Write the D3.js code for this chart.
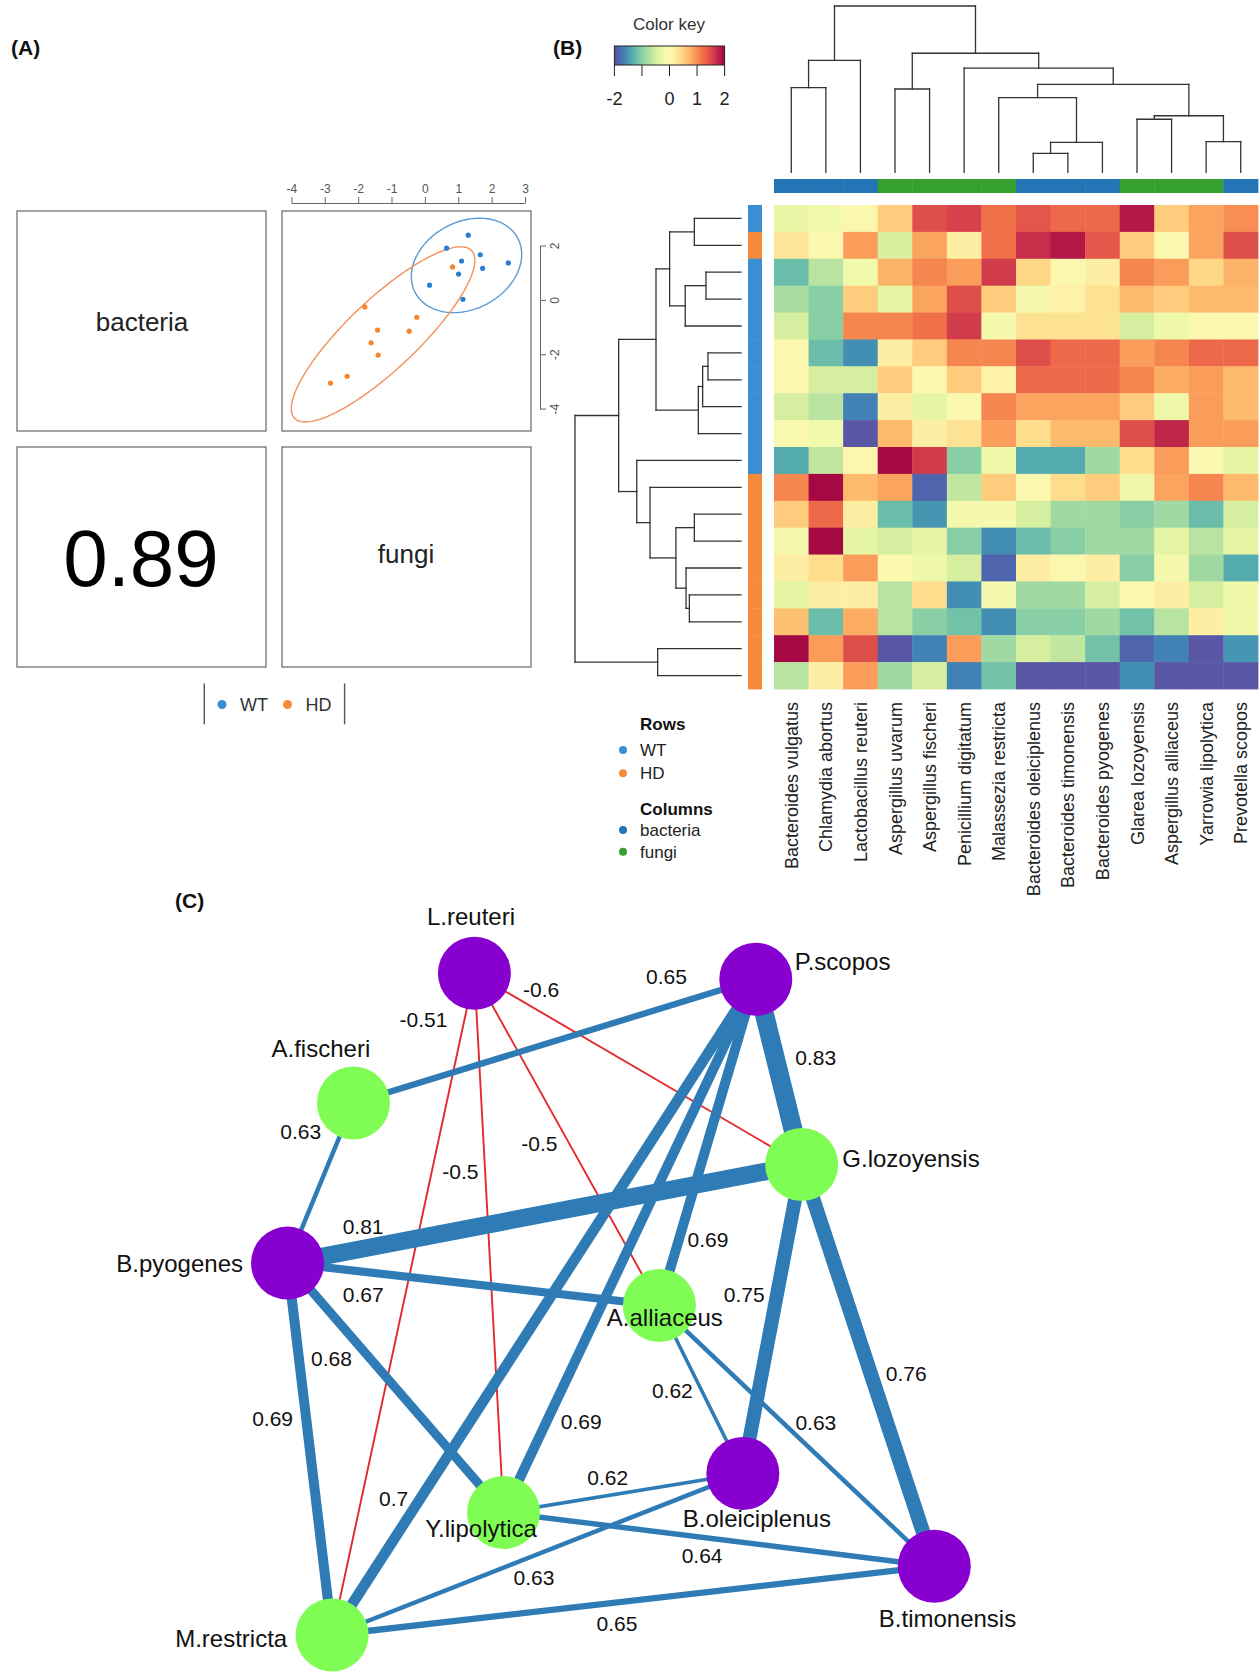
<!DOCTYPE html>
<html>
<head>
<meta charset="utf-8">
<script src="https://cdn.jsdelivr.net/npm/d3@7"></script>
<style>
  body { margin: 0; background: #fff; }
  svg { display: block; }
  text { font-family: "Liberation Sans", Arial, Helvetica, sans-serif; }
</style>
</head>
<body>
<svg id="fig" width="1260" height="1672"></svg>
<script>
// ---------------- Panel A: sample scores (x = fungi, y = bacteria) ----------------
const wtFungi      = [1.30, 0.65, 1.66, 1.10, 2.50, 1.73, 1.01, 0.14, 1.14];
const wtBacteria   = [2.38, 1.90, 1.66, 1.43, 1.36, 1.16, 0.95, 0.54, 0.02];
const hdFungi      = [0.83, -1.80, -0.24, -1.42, -0.47, -1.61, -1.40, -2.33, -2.83];
const hdBacteria   = [1.21, -0.26, -0.64, -1.11, -1.15, -1.58, -2.03, -2.81, -3.06];
const pairCorrelation = "0.89";
const scatterXTicks = [-4, -3, -2, -1, 0, 1, 2, 3];
const scatterYTicks = [-4, -2, 0, 2];
const groupNames = ["WT", "HD"];

// ---------------- Panel B: heatmap ----------------
const columnTaxa = ["Bacteroides vulgatus", "Chlamydia abortus", "Lactobacillus reuteri",
  "Aspergillus uvarum", "Aspergillus fischeri", "Penicillium digitatum", "Malassezia restricta",
  "Bacteroides oleiciplenus", "Bacteroides timonensis", "Bacteroides pyogenes",
  "Glarea lozoyensis", "Aspergillus alliaceus", "Yarrowia lipolytica", "Prevotella scopos"];
const columnKingdom = ["bacteria", "bacteria", "bacteria", "fungi", "fungi", "fungi", "fungi",
  "bacteria", "bacteria", "bacteria", "fungi", "fungi", "fungi", "bacteria"];
const rowGroups = ["WT", "HD", "WT", "WT", "WT", "WT", "WT", "WT", "WT", "WT",
  "HD", "HD", "HD", "HD", "HD", "HD", "HD", "HD"];
const zScores = [
  [-0.30, -0.20, 0.05, 0.55, 1.45, 1.55, 1.20, 1.40, 1.25, 1.25, 1.85, 0.55, 0.85, 1.00],
  [0.30, 0.05, 0.90, -0.45, 0.85, 0.20, 1.20, 1.70, 1.85, 1.40, 0.55, 0.00, 0.85, 1.45],
  [-1.20, -0.70, -0.20, 0.75, 1.05, 0.90, 1.60, 0.45, 0.05, 0.20, 1.05, 0.90, 0.45, 0.75],
  [-0.80, -1.00, 0.55, -0.35, 0.85, 1.45, 0.55, -0.15, 0.15, 0.35, 0.70, 0.55, 0.70, 0.70],
  [-0.50, -1.00, 1.05, 1.05, 1.20, 1.60, -0.15, 0.35, 0.35, 0.35, -0.50, -0.25, 0.00, 0.00],
  [0.05, -1.20, -1.55, 0.20, 0.55, 1.05, 1.05, 1.45, 1.25, 1.25, 0.90, 1.05, 1.25, 1.25],
  [0.05, -0.50, -0.50, 0.55, 0.05, 0.55, 0.15, 1.25, 1.25, 1.25, 1.05, 0.80, 0.90, 0.70],
  [-0.50, -0.70, -1.65, 0.20, -0.35, 0.00, 1.05, 0.85, 0.85, 0.85, 0.55, -0.25, 0.90, 0.70],
  [-0.05, -0.20, -1.95, 0.70, 0.20, 0.35, 0.90, 0.40, 0.70, 0.70, 1.45, 1.75, 0.90, 0.90],
  [-1.35, -0.65, 0.05, 1.95, 1.60, -1.00, -0.25, -1.35, -1.35, -0.85, 0.40, 0.90, 0.00, -0.35],
  [1.05, 1.95, 0.70, 0.85, -1.85, -0.65, 0.55, 0.05, 0.40, 0.55, -0.25, 0.85, 1.05, 0.70],
  [0.55, 1.25, 0.20, -1.20, -1.50, -0.15, -0.15, -0.50, -0.85, -0.85, -1.00, -0.85, -1.20, -0.50],
  [-0.15, 1.95, -0.35, -0.50, -0.35, -1.00, -1.55, -1.20, -1.00, -0.85, -0.85, -0.35, -0.70, -0.35],
  [0.20, 0.40, 0.90, 0.00, -0.25, -0.50, -1.85, 0.20, 0.05, 0.20, -1.00, -0.15, -0.85, -1.35],
  [-0.35, 0.20, 0.20, -0.70, 0.40, -1.55, -0.15, -0.85, -0.85, -0.50, 0.00, 0.20, -0.50, -0.25],
  [0.65, -1.20, 0.80, -0.70, -1.00, -1.15, -1.55, -1.00, -1.00, -0.85, -1.15, -0.70, 0.20, -0.25],
  [1.95, 0.90, 1.45, -1.95, -1.65, 0.90, -0.85, -0.50, -0.65, -1.15, -1.85, -1.65, -1.95, -1.50],
  [-0.70, 0.20, 0.90, -0.85, -0.50, -1.65, -1.15, -1.95, -1.95, -1.95, -1.55, -1.95, -1.95, -1.95]
];
// hclust-style merges: [a, b, height]; negative = leaf (1-based, display order), positive = earlier merge
const columnMerges = [
  [-1, -2, 5.09], [1, -3, 6.73], [-4, -5, 5.01], [-8, -9, 1.14], [4, -10, 1.80],
  [-7, 5, 4.49], [-11, -12, 3.19], [-13, -14, 1.84], [7, 8, 3.40], [6, 9, 5.29],
  [-6, 10, 6.27], [3, 11, 7.16], [2, 12, 10.0]
];
const rowMerges = [
  [-1, -2, 2.81], [-3, -4, 2.11], [2, -5, 3.36], [1, 3, 4.30], [-6, -7, 1.99],
  [5, -8, 2.31], [6, -9, 2.57], [4, 7, 5.12], [-12, -13, 2.81], [-15, -16, 3.11],
  [-14, 10, 3.31], [9, 11, 3.92], [-11, 12, 5.48], [-10, 13, 6.28], [8, 14, 7.37],
  [-17, -18, 5.02], [15, 16, 10.0]
];
const keyTicks = [-2, -1, 0, 1, 2];
const keyTickLabels = ["-2", "", "0", "1", "2"];
const kingdoms = ["bacteria", "fungi"];

// ---------------- Panel C: correlation network ----------------
const taxa = ["L.reuteri", "P.scopos", "A.fischeri", "G.lozoyensis", "B.pyogenes",
  "A.alliaceus", "Y.lipolytica", "B.oleiciplenus", "B.timonensis", "M.restricta"];
const taxonKingdom = ["bacteria", "bacteria", "fungi", "fungi", "bacteria",
  "fungi", "fungi", "bacteria", "bacteria", "fungi"];
const edgeSource = ["A.fischeri", "A.fischeri", "B.pyogenes", "B.pyogenes", "B.pyogenes", "B.pyogenes",
  "P.scopos", "P.scopos", "P.scopos", "P.scopos", "L.reuteri", "L.reuteri", "L.reuteri", "L.reuteri",
  "G.lozoyensis", "G.lozoyensis", "A.alliaceus", "A.alliaceus", "Y.lipolytica", "Y.lipolytica",
  "M.restricta", "M.restricta"];
const edgeTarget = ["P.scopos", "B.pyogenes", "G.lozoyensis", "A.alliaceus", "Y.lipolytica", "M.restricta",
  "G.lozoyensis", "A.alliaceus", "Y.lipolytica", "M.restricta", "M.restricta", "Y.lipolytica", "A.alliaceus", "G.lozoyensis",
  "B.oleiciplenus", "B.timonensis", "B.oleiciplenus", "B.timonensis", "B.oleiciplenus", "B.timonensis",
  "B.oleiciplenus", "B.timonensis"];
const edgeWeight = [0.65, 0.63, 0.81, 0.67, 0.68, 0.69,
  0.83, 0.69, 0.69, 0.7, -0.51, -0.5, -0.5, -0.6,
  0.75, 0.76, 0.62, 0.63, 0.62, 0.64, 0.63, 0.65];

// ================= drawing =================
const svg = d3.select("#fig");
svg.append("rect").attr("width", 1260).attr("height", 1672).attr("fill", "#fff");

// panel tags
const tags = [["(A)", 11, 55], ["(B)", 553, 55], ["(C)", 175, 908]];
svg.selectAll("text.tag").data(tags).join("text").attr("class", "tag")
  .attr("x", d => d[1]).attr("y", d => d[2])
  .attr("font-size", 21).attr("font-weight", "bold").attr("fill", "#111").text(d => d[0]);

const groupColor = d3.scaleOrdinal().domain(groupNames).range(["#3a8ed4", "#f58b3a"]);
const pointColor = d3.scaleOrdinal().domain(groupNames).range(["#2a80d0", "#f5842b"]);
const ellipseColor = d3.scaleOrdinal().domain(groupNames).range(["#5a9ad6", "#f2905a"]);
const plainNumber = d => String(d);

// ---- Panel A ----
(function panelA() {
  const g = svg.append("g");
  const boxes = [[17, 211], [282, 211], [17, 447], [282, 447]];
  g.selectAll("rect.box").data(boxes).join("rect").attr("class", "box")
    .attr("x", d => d[0]).attr("y", d => d[1]).attr("width", 249).attr("height", 220)
    .attr("fill", "none").attr("stroke", "#666").attr("stroke-width", 1.2);

  g.append("text").attr("x", 142).attr("y", 331).attr("text-anchor", "middle")
    .attr("font-size", 26).attr("fill", "#222").text("bacteria");
  g.append("text").attr("x", 406).attr("y", 563).attr("text-anchor", "middle")
    .attr("font-size", 26).attr("fill", "#222").text("fungi");
  g.append("text").attr("x", 141).attr("y", 586).attr("text-anchor", "middle")
    .attr("font-size", 80).attr("fill", "#000").text(pairCorrelation);

  const sx = d3.scaleLinear().domain([-4, 3]).range([291.4, 525]);
  const sy = d3.scaleLinear().domain([-4, 2]).range([408.6, 245.5]);

  const top = g.append("g").attr("transform", "translate(0,203)")
    .call(d3.axisTop(sx).tickValues(scatterXTicks).tickFormat(plainNumber)
      .tickSize(6).tickSizeOuter(0).tickPadding(4));
  top.selectAll("path,line").attr("stroke", "#666");
  top.selectAll("text").attr("font-size", 12).attr("fill", "#555")
    .attr("font-family", '"Liberation Sans", Arial, sans-serif');

  const right = g.append("g").attr("transform", "translate(540,0)")
    .call(d3.axisRight(sy).tickValues(scatterYTicks).tickFormat(plainNumber)
      .tickSize(6).tickSizeOuter(0));
  right.selectAll("path,line").attr("stroke", "#666");
  right.selectAll("text").attr("font-size", 12).attr("fill", "#555")
    .attr("font-family", '"Liberation Sans", Arial, sans-serif')
    .attr("x", null).attr("dy", null).attr("text-anchor", "middle")
    .attr("transform", "translate(19,0) rotate(-90)");

  const groups = [
    { name: "WT", x: wtFungi, y: wtBacteria },
    { name: "HD", x: hdFungi, y: hdBacteria }
  ];
  // 95% data ellipse from each group's mean and covariance
  const k = Math.sqrt(-2 * Math.log(0.05));
  const line = d3.line().curve(d3.curveLinearClosed);
  groups.forEach(gr => {
    const n = gr.x.length;
    const mx = d3.mean(gr.x), my = d3.mean(gr.y);
    let sxx = 0, syy = 0, sxy = 0;
    for (let i = 0; i < n; i++) {
      sxx += (gr.x[i] - mx) ** 2; syy += (gr.y[i] - my) ** 2; sxy += (gr.x[i] - mx) * (gr.y[i] - my);
    }
    sxx /= n - 1; syy /= n - 1; sxy /= n - 1;
    const tr = (sxx + syy) / 2, det = Math.sqrt(((sxx - syy) / 2) ** 2 + sxy ** 2);
    const l1 = tr + det, l2 = tr - det;
    const th = 0.5 * Math.atan2(2 * sxy, sxx - syy);
    const pts = d3.range(0, 2 * Math.PI, Math.PI / 90).map(p => {
      const a = k * Math.sqrt(l1) * Math.cos(p), b = k * Math.sqrt(l2) * Math.sin(p);
      return [sx(mx + a * Math.cos(th) - b * Math.sin(th)), sy(my + a * Math.sin(th) + b * Math.cos(th))];
    });
    g.append("path").attr("d", line(pts)).attr("fill", "none")
      .attr("stroke", ellipseColor(gr.name)).attr("stroke-width", 1.4);
  });
  groups.forEach(gr => {
    g.selectAll(null).data(d3.range(gr.x.length)).join("circle")
      .attr("cx", i => sx(gr.x[i])).attr("cy", i => sy(gr.y[i])).attr("r", 2.6)
      .attr("fill", pointColor(gr.name));
  });

  // legend
  const lg = g.append("g");
  [204.3, 344.6].forEach(x => lg.append("line").attr("x1", x).attr("x2", x)
    .attr("y1", 683.5).attr("y2", 724.3).attr("stroke", "#555").attr("stroke-width", 1.4));
  const legendX = [222, 287.5];
  groupNames.forEach((nm, i) => {
    lg.append("circle").attr("cx", legendX[i]).attr("cy", 704.5).attr("r", 4.5).attr("fill", groupColor(nm));
    lg.append("text").attr("x", legendX[i] + 18).attr("y", 711).attr("font-size", 18)
      .attr("fill", "#333").text(nm);
  });
})();

// ---- Panel B ----
const heatColor = d3.scaleSequential(t => d3.interpolateSpectral(1 - t)).domain([-2, 2]);
const kingdomColor = d3.scaleOrdinal().domain(kingdoms).range(["#2574b5", "#36a02f"]);

(function panelB() {
  const g = svg.append("g");
  const xBand = d3.scaleBand().domain(d3.range(columnTaxa.length)).range([774, 1258]);
  const yBand = d3.scaleBand().domain(d3.range(rowGroups.length)).range([205, 689]);

  // cells
  zScores.forEach((row, r) => {
    g.selectAll(null).data(row).join("rect")
      .attr("x", (v, c) => xBand(c)).attr("y", yBand(r))
      .attr("width", xBand.bandwidth() + 0.4).attr("height", yBand.bandwidth() + 0.4)
      .attr("fill", v => heatColor(v));
  });

  // side colour bars
  g.selectAll("rect.colside").data(columnKingdom).join("rect").attr("class", "colside")
    .attr("x", (d, i) => xBand(i)).attr("y", 179).attr("width", xBand.bandwidth() + 0.4).attr("height", 14)
    .attr("fill", d => kingdomColor(d));
  g.selectAll("rect.rowside").data(rowGroups).join("rect").attr("class", "rowside")
    .attr("x", 748).attr("y", (d, i) => yBand(i)).attr("width", 14).attr("height", yBand.bandwidth() + 0.4)
    .attr("fill", d => groupColor(d));

  // dendrograms
  function dendro(merges, leafPos, hScale, vertical) {
    const pos = [], ht = [];
    const get = id => id < 0 ? [leafPos(-id - 1), 0] : [pos[id - 1], ht[id - 1]];
    const segs = [];
    merges.forEach(([a, b, h], i) => {
      const [pa, ha] = get(a), [pb, hb] = get(b);
      pos[i] = (pa + pb) / 2; ht[i] = h;
      segs.push([pa, ha, pa, h], [pb, hb, pb, h], [pa, h, pb, h]);
    });
    g.selectAll(null).data(segs).join("line")
      .attr(vertical ? "x1" : "y1", d => d[0]).attr(vertical ? "y1" : "x1", d => hScale(d[1]))
      .attr(vertical ? "x2" : "y2", d => d[2]).attr(vertical ? "y2" : "x2", d => hScale(d[3]))
      .attr("stroke", "#333").attr("stroke-width", 1.3).attr("stroke-linecap", "square");
  }
  dendro(columnMerges, i => xBand(i) + xBand.bandwidth() / 2,
    d3.scaleLinear().domain([0, 10]).range([172.3, 6]), true);
  dendro(rowMerges, i => yBand(i) + yBand.bandwidth() / 2,
    d3.scaleLinear().domain([0, 10]).range([741, 575]), false);

  // column labels
  g.selectAll("text.collab").data(columnTaxa).join("text").attr("class", "collab")
    .attr("transform", (d, i) => `translate(${xBand(i) + xBand.bandwidth() / 2 + 6.5},702) rotate(-90)`)
    .attr("text-anchor", "end").attr("font-size", 18).attr("fill", "#222").text(d => d);

  // colour key
  const kx = d3.scaleLinear().domain([-2, 2]).range([614.4, 724.6]);
  const defs = svg.append("defs");
  const grad = defs.append("linearGradient").attr("id", "keygrad");
  d3.range(0, 1.0001, 0.05).forEach(t => grad.append("stop")
    .attr("offset", t).attr("stop-color", heatColor(-2 + 4 * t)));
  g.append("text").attr("x", 669).attr("y", 30).attr("text-anchor", "middle")
    .attr("font-size", 17).attr("fill", "#333").text("Color key");
  g.append("rect").attr("x", kx(-2)).attr("y", 46).attr("width", kx(2) - kx(-2)).attr("height", 19)
    .attr("fill", "url(#keygrad)").attr("stroke", "#222").attr("stroke-width", 1);
  g.selectAll("line.ktick").data(keyTicks).join("line").attr("class", "ktick")
    .attr("x1", d => kx(d)).attr("x2", d => kx(d)).attr("y1", 65).attr("y2", 76)
    .attr("stroke", "#222").attr("stroke-width", 1);
  g.selectAll("text.klab").data(keyTicks).join("text").attr("class", "klab")
    .attr("x", d => kx(d)).attr("y", 105).attr("text-anchor", "middle")
    .attr("font-size", 18).attr("fill", "#222").text((d, i) => keyTickLabels[i]);

  // legend
  const lg = g.append("g").attr("font-size", 17);
  lg.append("text").attr("x", 640).attr("y", 729.5).attr("font-weight", "bold").attr("fill", "#111").text("Rows");
  groupNames.forEach((nm, i) => {
    lg.append("circle").attr("cx", 623).attr("cy", 750 + i * 23.3).attr("r", 4).attr("fill", groupColor(nm));
    lg.append("text").attr("x", 640).attr("y", 756 + i * 23.3).attr("fill", "#222").text(nm);
  });
  lg.append("text").attr("x", 640).attr("y", 814.5).attr("font-weight", "bold").attr("fill", "#111").text("Columns");
  kingdoms.forEach((nm, i) => {
    lg.append("circle").attr("cx", 623).attr("cy", 830 + i * 21.7).attr("r", 4).attr("fill", kingdomColor(nm));
    lg.append("text").attr("x", 640).attr("y", 836 + i * 21.7).attr("fill", "#222").text(nm);
  });
})();

// ---- Panel C ----
(function panelC() {
  const g = svg.append("g");
  // network layout (unit square) for each taxon, same order as taxa
  const layoutX = [0.289, 0.724, 0.102, 0.795, 0.0, 0.575, 0.334, 0.704, 1.0, 0.069];
  const layoutY = [0.0, 0.009, 0.196, 0.289, 0.438, 0.502, 0.815, 0.756, 0.896, 1.0];
  const nx = d3.scaleLinear().domain([0, 1]).range([287.5, 934.3]);
  const ny = d3.scaleLinear().domain([0, 1]).range([973.3, 1635]);
  const P = name => { const i = taxa.indexOf(name); return [nx(layoutX[i]), ny(layoutY[i])]; };

  const width = d3.scaleLinear().domain([0.62, 0.69, 0.83]).range([3.6, 10, 19]).clamp(true);
  const edges = edgeSource.map((s, i) => ({ s, t: edgeTarget[i], w: edgeWeight[i] }));

  // negative edges underneath, positive edges on top
  const order = edges.slice().sort((a, b) => (a.w < 0 ? 0 : 1) - (b.w < 0 ? 0 : 1));
  g.selectAll("line.edge").data(order).join("line").attr("class", "edge")
    .attr("x1", d => P(d.s)[0]).attr("y1", d => P(d.s)[1])
    .attr("x2", d => P(d.t)[0]).attr("y2", d => P(d.t)[1])
    .attr("stroke", d => d.w < 0 ? "#e3292c" : "#2e7bb6")
    .attr("stroke-width", d => d.w < 0 ? 1.9 : width(d.w));

  // label placement: offset from each edge midpoint, same order as the edge arrays
  const labelDX = [111.8, -19.7, -181.5, -110.3, -64.1, -37.2, 36.9, 0.3, -48.4, -150.4,
    20.2, -28.6, -27.6, -96.9, -28, 38.3, -28.8, 19, -15.5, -16.8, -3.5, -16.2];
  const labelDY = [-64.2, -51.3, 12.9, 10.6, -28.8, -30.2, -14.4, 97, 175.3, 192,
    -284.2, -71.1, 3.9, -78.8, -24.5, 8.8, 1.6, -13.1, -15.1, 16.1, 23.5, 22.8];
  g.selectAll("text.elab").data(edges).join("text").attr("class", "elab")
    .attr("x", (d, i) => (P(d.s)[0] + P(d.t)[0]) / 2 + labelDX[i])
    .attr("y", (d, i) => (P(d.s)[1] + P(d.t)[1]) / 2 + labelDY[i] + 7.3)
    .attr("text-anchor", "middle").attr("font-size", 21).attr("fill", "#111")
    .text(d => String(d.w));

  const nodeColor = d3.scaleOrdinal().domain(kingdoms).range(["#8800cf", "#80fd55"]);
  g.selectAll("circle.node").data(taxa).join("circle").attr("class", "node")
    .attr("cx", d => P(d)[0]).attr("cy", d => P(d)[1]).attr("r", 36.5)
    .attr("fill", (d, i) => nodeColor(taxonKingdom[i]));

  // node label placement relative to node centre
  const nodeLabelDX = [-3.4, 39, -32.6, 40.6, -44.5, -52.6, -22.5, 14, 13.2, -44.9];
  const nodeLabelDY = [-56.6, -17.3, -54.4, -6, 0, 11.8, 16, 45, 52.3, 3.3];
  const nodeAnchor = ["middle", "start", "middle", "start", "end", "start", "middle", "middle", "middle", "end"];
  g.selectAll("text.nlab").data(taxa).join("text").attr("class", "nlab")
    .attr("x", (d, i) => P(d)[0] + nodeLabelDX[i])
    .attr("y", (d, i) => P(d)[1] + nodeLabelDY[i] + 8.5)
    .attr("text-anchor", (d, i) => nodeAnchor[i]).attr("font-size", 24).attr("fill", "#111")
    .text(d => d);
})();
</script>
</body>
</html>
